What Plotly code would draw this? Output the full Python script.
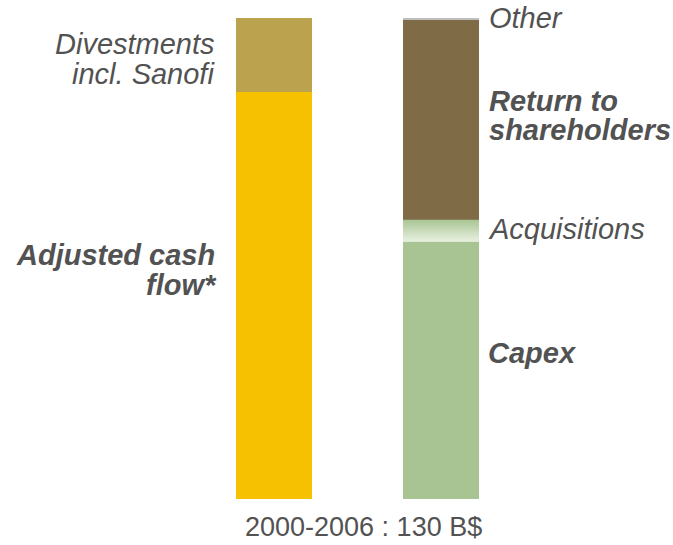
import plotly.graph_objects as go

# ---- data (B$, 2000-2006) ----
sources_labels = ["Adjusted cash flow*", "Divestments incl. Sanofi"]
sources_values = [110.0, 20.0]
uses_labels = ["Capex", "Acquisitions", "Return to shareholders", "Other"]
uses_values = [69.5, 6.0, 54.0, 0.5]
bar_positions = [0, 1]
footer_text = "2000-2006 : 130 B$"

# ---- styles ----
W, H = 673, 545
M_T, M_B = 18, 46
PLOT_H = H - M_T - M_B
BAR_W = 76 / 167
X0_PX, UNIT_PX = 274, 167
TEXT = "#525252"
FONT = "Liberation Sans, Arial, sans-serif"

src_colors = ["#F5C100", "#BBA24E"]
use_colors = ["#A8C492", "#C9DABB", "#7F6B45", "#BEBEBE"]

fig = go.Figure()
for lab, val, col in zip(sources_labels, sources_values, src_colors):
    fig.add_trace(go.Bar(x=[bar_positions[0]], y=[val], width=BAR_W, name=lab,
                         marker=dict(color=col, line=dict(width=0))))
for lab, val, col in zip(uses_labels, uses_values, use_colors):
    fig.add_trace(go.Bar(x=[bar_positions[1]], y=[val], width=BAR_W, name=lab,
                         marker=dict(color=col, line=dict(width=0))))

# gradient overlay for the acquisitions segment (derived from the data)
acq_lo = uses_values[0]
acq_hi = uses_values[0] + uses_values[1]
xc = bar_positions[1]
fig.add_trace(go.Scatter(
    x=[xc - BAR_W / 2, xc + BAR_W / 2, xc + BAR_W / 2, xc - BAR_W / 2, xc - BAR_W / 2],
    y=[acq_lo, acq_lo, acq_hi, acq_hi, acq_lo],
    mode="lines", line=dict(width=0), fill="toself",
    fillgradient=dict(type="vertical",
                      colorscale=[[0, "#E4EEDC"], [0.15, "#E0EBD7"], [1, "#A8C492"]]),
    hoverinfo="skip", showlegend=False))


def px(xp):
    return xp / W


def py(yp):
    return (H - M_B - yp) / PLOT_H


def ann(text, xp, yp, xanchor, size=29):
    fig.add_annotation(text=text, x=px(xp), y=py(yp), xref="paper", yref="paper",
                       xanchor=xanchor, yanchor="middle", showarrow=False,
                       font=dict(family=FONT, size=size, color=TEXT))


ann("<i>Divestments</i>", 217, 44, "right")
ann("<i>incl. Sanofi</i>", 217, 74, "right")
ann("<b><i>Adjusted cash</i></b>", 217, 255, "right")
ann("<b><i>flow*</i></b>", 219, 285, "right")
ann("<i>Other</i>", 487, 18, "left")
ann("<b><i>Return to</i></b>", 487, 101, "left")
ann("<b><i>shareholders</i></b>", 487, 130, "left")
ann("<i>Acquisitions</i>", 486, 229, "left")
ann("<b><i>Capex</i></b>", 486, 353, "left")
ann(footer_text, 363, 527, "center", size=27)

fig.update_layout(
    width=W, height=H, barmode="stack", showlegend=False,
    margin=dict(l=0, r=0, t=M_T, b=M_B),
    paper_bgcolor="white", plot_bgcolor="white",
    xaxis=dict(range=[-X0_PX / UNIT_PX, (W - X0_PX) / UNIT_PX], visible=False, fixedrange=True),
    yaxis=dict(range=[0, sum(sources_values)], visible=False, fixedrange=True),
)

fig.write_html("out.html", config={"displayModeBar": False},
               post_script="document.body.style.margin='0';document.body.style.overflow='hidden';")
